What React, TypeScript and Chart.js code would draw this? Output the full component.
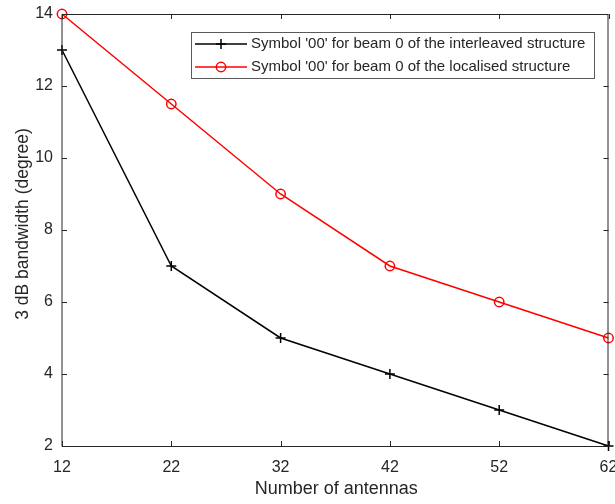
import React, { useEffect, useRef } from "react";
import { Chart, registerables } from "chart.js";

Chart.register(...registerables);

const antennas = [12, 22, 32, 42, 52, 62];
const interleaved = [13, 7, 5, 4, 3, 2];
const localised = [14, 11.5, 9, 7, 6, 5];
const seriesNames = [
  "Symbol '00' for beam 0 of the interleaved structure",
  "Symbol '00' for beam 0 of the localised structure",
];
const xTitle = "Number of antennas";
const yTitle = "3 dB bandwidth (degree)";

const AXIS = "#262626";
const FONT = "'Liberation Sans', Arial, Helvetica, sans-serif";

// Draws the MATLAB-style box with inward ticks, the axis titles and the legend.
const boxPlugin = {
  id: "boxFrame",
  afterDraw(chart: any) {
    const { ctx, chartArea: a, scales } = chart;
    const xs = scales.x;
    const ys = scales.y;
    ctx.save();
    ctx.strokeStyle = AXIS;
    ctx.lineWidth = 1;
    ctx.beginPath();
    ctx.rect(a.left, a.top + 0.5, a.right - a.left - 0.5, a.bottom - a.top);
    ctx.stroke();
    const tl = 5;
    ctx.beginPath();
    xs.ticks.forEach((t: any) => {
      const px = Math.round(xs.getPixelForValue(t.value)) + 0.5;
      ctx.moveTo(px, a.bottom);
      ctx.lineTo(px, a.bottom - tl);
      ctx.moveTo(px, a.top);
      ctx.lineTo(px, a.top + tl);
    });
    ys.ticks.forEach((t: any) => {
      const py = Math.round(ys.getPixelForValue(t.value)) + 0.5;
      ctx.moveTo(a.left, py);
      ctx.lineTo(a.left + tl, py);
      ctx.moveTo(a.right, py);
      ctx.lineTo(a.right - tl, py);
    });
    ctx.stroke();

    // axis titles
    ctx.fillStyle = AXIS;
    ctx.textAlign = "center";
    ctx.textBaseline = "middle";
    ctx.font = `18px ${FONT}`;
    ctx.fillText(xTitle, (a.left + a.right) / 2 + 1, 489);
    ctx.save();
    ctx.font = `17.5px ${FONT}`;
    ctx.translate(23, 224);
    ctx.rotate(-Math.PI / 2);
    ctx.fillText(yTitle, 0, 0);
    ctx.restore();

    // legend
    const lx = 191, ly = 32, lw = 403, lh = 46;
    ctx.fillStyle = "#ffffff";
    ctx.fillRect(lx, ly, lw, lh);
    ctx.strokeStyle = "#5a5a5a";
    ctx.lineWidth = 1;
    ctx.strokeRect(lx + 0.5, ly + 0.5, lw, lh);
    const rows = [
      { y: 44, color: "#000000", style: "cross" },
      { y: 67, color: "#ff0000", style: "circle" },
    ];
    rows.forEach((r, i) => {
      ctx.strokeStyle = r.color;
      ctx.lineWidth = 1.5;
      ctx.beginPath();
      ctx.moveTo(195, r.y);
      ctx.lineTo(247, r.y);
      ctx.stroke();
      ctx.beginPath();
      if (r.style === "cross") {
        ctx.moveTo(221 - 5, r.y);
        ctx.lineTo(221 + 5, r.y);
        ctx.moveTo(221, r.y - 5);
        ctx.lineTo(221, r.y + 5);
      } else {
        ctx.arc(221, r.y, 4.7, 0, Math.PI * 2);
      }
      ctx.stroke();
      ctx.fillStyle = AXIS;
      ctx.font = `15px ${FONT}`;
      ctx.textAlign = "left";
      ctx.textBaseline = "middle";
      ctx.fillText(seriesNames[i], 251, r.y);
    });
    ctx.restore();
  },
};

export default function App() {
  const ref = useRef<HTMLCanvasElement>(null);
  useEffect(() => {
    document.body.style.margin = "0";
    const chart = new Chart(ref.current!, {
      type: "line",
      data: {
        datasets: [
          {
            label: seriesNames[0],
            data: antennas.map((x, i) => ({ x, y: interleaved[i] })),
            borderColor: "#000000",
            backgroundColor: "#000000",
            borderWidth: 1.5,
            pointStyle: "cross",
            pointRadius: 5,
            pointBorderWidth: 1.5,
            tension: 0,
            clip: false,
          },
          {
            label: seriesNames[1],
            data: antennas.map((x, i) => ({ x, y: localised[i] })),
            borderColor: "#ff0000",
            backgroundColor: "rgba(0,0,0,0)",
            borderWidth: 1.5,
            pointStyle: "circle",
            pointRadius: 4.7,
            pointBorderWidth: 1.5,
            tension: 0,
            clip: false,
          },
        ],
      },
      options: {
        animation: false,
        responsive: false,
        devicePixelRatio: 1,
        layout: { padding: { left: 0, top: 14, right: 5, bottom: 0 } },
        plugins: {
          legend: { display: false },
          tooltip: { enabled: false },
        },
        scales: {
          x: {
            type: "linear",
            min: 12,
            max: 62,
            grid: { display: false, drawTicks: false },
            border: { display: false },
            ticks: {
              stepSize: 10,
              color: AXIS,
              font: { family: FONT, size: 16 },
              padding: 12,
              maxRotation: 0,
            },
            afterFit(s: any) {
              s.height = 58;
              s.paddingLeft = 0;
              s.paddingRight = 0;
            },
          },
          y: {
            min: 2,
            max: 14,
            grid: { display: false, drawTicks: false },
            border: { display: false },
            ticks: {
              stepSize: 2,
              color: AXIS,
              font: { family: FONT, size: 16 },
              padding: 9,
            },
            afterFit(s: any) {
              s.width = 62;
              s.paddingTop = 0;
              s.paddingBottom = 0;
            },
          },
        },
      },
      plugins: [boxPlugin],
    });
    return () => chart.destroy();
  }, []);
  return <canvas ref={ref} width={615} height={504} style={{ display: "block" }} />;
}
